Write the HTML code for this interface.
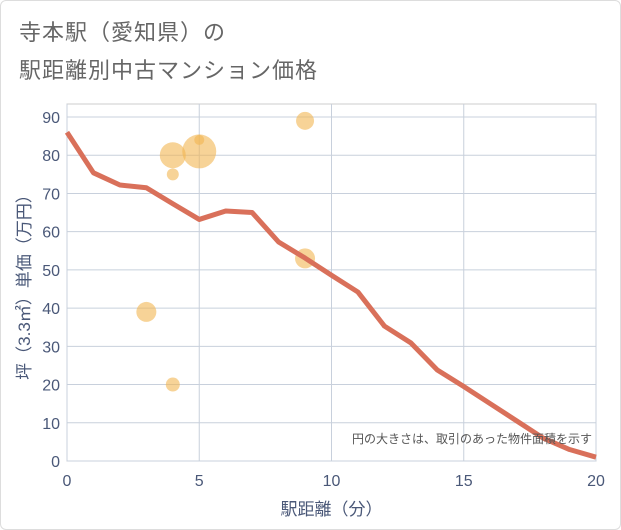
<!DOCTYPE html>
<html><head><meta charset="utf-8"><style>
body{margin:0;background:#fff;}
#wrap{position:relative;width:619px;height:528px;border:1px solid #ddd;border-radius:6px;background:#fff;overflow:hidden;font-family:"Liberation Sans","Noto Sans CJK JP",sans-serif;}
.title{position:absolute;left:18px;font-size:22px;color:#666;letter-spacing:1px;}
</style></head><body>
<div id="wrap">
<div class="title" style="top:14px">寺本駅（愛知県）の</div>
<div class="title" style="top:52px">駅距離別中古マンション価格</div>
<svg id="chart" width="621" height="530" style="position:absolute;left:-1px;top:-1px"></svg>
</div>
<script>
const lineX=[0,1,2,3,4,5,6,7,8,9,10,11,12,13,14,15,16,17,18,19,20];
const lineY=[86,75.4,72.2,71.5,67.3,63.2,65.4,65,57.3,53.1,48.6,44.2,35.3,30.9,23.8,19.5,15,10.5,6,3,1];
const bubX=[3,4,4,4,5,5,9,9];
const bubY=[39,20,75,80,81,84,89,53];
const bubR=[10,7,6,13,17,5,9,10];
const xTicks=[0,5,10,15,20];
const yTicks=[0,10,20,30,40,50,60,70,80,90];
const X0=67,X1=596,Y0=461,Y1=117;
const sx=v=>X0+(X1-X0)*v/20;
const sy=v=>Y0-(Y0-Y1)*v/90;
const svg=document.getElementById('chart');
const NS='http://www.w3.org/2000/svg';
function mk(t,a){const e=document.createElementNS(NS,t);for(const k in a)e.setAttribute(k,a[k]);svg.appendChild(e);return e;}
const bg=mk('rect',{x:X0,y:104,width:X1-X0,height:Y0-104,fill:'#fff',stroke:'#ccc'});


xTicks.forEach(t=>{
  const g=mk('line',{x1:sx(t),x2:sx(t),y1:104,y2:Y0,stroke:'#c8d0dc'});
  
  
  const l=mk('text',{x:sx(t),y:486,'text-anchor':'middle','font-size':16,fill:'#4a5878'});
  l.textContent=t;
  
  
});
yTicks.forEach(t=>{
  const g=mk('line',{x1:X0,x2:X1,y1:sy(t),y2:sy(t),stroke:'#c8d0dc'});
  
  
  const l=mk('text',{x:60,y:sy(t)+6,'text-anchor':'end','font-size':16,fill:'#4a5878'});
  l.textContent=t;
  
  
});
bubX.forEach((v,i)=>{
  const c=mk('circle',{cx:sx(v),cy:sy(bubY[i]),r:bubR[i],fill:'#f2b552','fill-opacity':0.6});
  
  
});
const p=mk('polyline',{points:lineX.map((v,i)=>sx(v)+','+sy(lineY[i])).join(' '),fill:'none',stroke:'#d9705a','stroke-width':5,'stroke-linejoin':'round'});


const xt=mk('text',{x:(X0+X1)/2,y:515,'text-anchor':'middle','font-size':17,fill:'#4a5878'});
xt.textContent='駅距離（分）';


const yt=mk('text',{x:0,y:0,'text-anchor':'middle','font-size':17,fill:'#4a5878',transform:'translate(30,283) rotate(-90)'});
yt.textContent='坪（3.3㎡）単価（万円）';


const n=mk('text',{x:592,y:443,'text-anchor':'end','font-size':12,fill:'#555'});
n.textContent='円の大きさは、取引のあった物件面積を示す';


</script>
</body></html>
